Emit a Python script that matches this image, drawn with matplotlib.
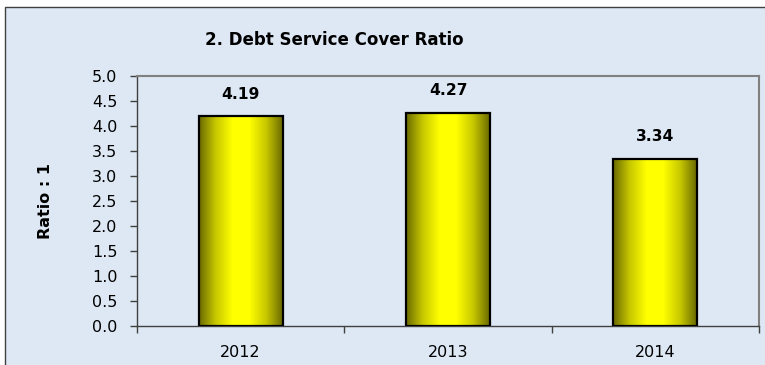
# 2. Debt Service Cover Ratio - yellow gradient bars
import matplotlib
matplotlib.use("Agg")
import matplotlib.pyplot as plt
from matplotlib.patches import Rectangle
from matplotlib.colors import LinearSegmentedColormap
import numpy as np

years = ["2012", "2013", "2014"]
ratios = [4.19, 4.27, 3.34]
value_labels = ["4.19", "4.27", "3.34"]
yticks = [0.0, 0.5, 1.0, 1.5, 2.0, 2.5, 3.0, 3.5, 4.0, 4.5, 5.0]

bg = "#dde8f4"
W, H = 765, 365

fig = plt.figure(figsize=(W / 100, H / 100), dpi=100)
fig.patch.set_facecolor("white")
# chart area border (cropped at right / bottom)
fig.patches.append(Rectangle((5 / W, -0.1), 1.1, 1 - 7 / H + 0.1, transform=fig.transFigure,
                             facecolor=bg, edgecolor="#404040", linewidth=1.0, zorder=-5))

ax = fig.add_axes([137 / W, 39 / H, 622 / W, 250 / H])
ax.set_facecolor("none")
ax.set_zorder(2)

x = np.arange(len(years))
bars = ax.bar(x, ratios, width=0.405, facecolor="none", edgecolor="black", linewidth=1.6, zorder=3)

# horizontal shading: dark olive edges, bright yellow middle
shade = LinearSegmentedColormap.from_list("shade", ["#6a6a00", "#c8c800", "#ffff00", "#ffff00", "#c8c800", "#6a6a00"])
grad = np.linspace(0, 1, 256).reshape(1, -1)
for b in bars:
    x0, y0 = b.get_x(), b.get_y()
    im = ax.imshow(grad, cmap=shade, aspect="auto", zorder=2, interpolation="bilinear",
                   extent=[x0, x0 + b.get_width(), y0, y0 + b.get_height()])
    im.set_clip_path(b)

for xi, v, lab in zip(x, ratios, value_labels):
    ax.annotate(lab, (xi, v), xytext=(0, 16), textcoords="offset points",
                ha="center", va="center", fontsize=11.2, fontweight="bold", color="black")

ax.set_xlim(-0.5, 2.5)
ax.set_ylim(0, 5)
ax.set_yticks(yticks)
ax.set_yticklabels([f"{t:.1f}" for t in yticks])
ax.set_xticks(x)
ax.set_xticklabels(years)
ax.set_xticks([-0.5, 0.5, 1.5, 2.5], minor=True)
ax.tick_params(axis="x", which="major", length=0, pad=14, labelsize=11.5)
ax.tick_params(axis="x", which="minor", length=5, width=1, color="#404040")
ax.tick_params(axis="y", length=5, width=1, color="#404040", pad=9, labelsize=11.5)

for s in ("top", "right"):
    ax.spines[s].set_color("#808080")
    ax.spines[s].set_linewidth(1.5)
for s in ("left", "bottom"):
    ax.spines[s].set_color("#404040")
    ax.spines[s].set_linewidth(1.0)

ax.set_ylabel("Ratio : 1", fontsize=11.5, fontweight="bold")
ax.yaxis.set_label_coords(-0.135, 0.5)

fig.text(205 / W, 1 - 40 / H, "2. Debt Service Cover Ratio", ha="left", va="center",
         fontsize=12, fontweight="bold")

fig.savefig("out.png", dpi=100, facecolor=fig.get_facecolor())
